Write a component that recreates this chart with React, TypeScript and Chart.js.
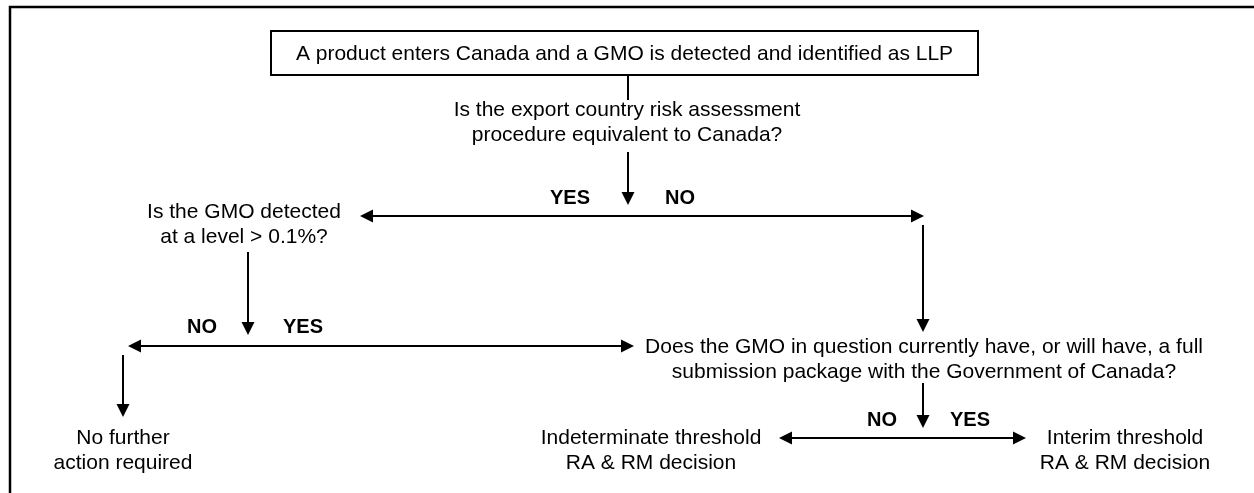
import React, { useEffect, useRef } from "react";
import { Chart, registerables } from "chart.js";

Chart.register(...registerables);

// Diagram coordinate space (x: 0..1254, y: 0..493 top-down)
const X_RANGE = [0, 1254];
const Y_RANGE = [0, 493];

// Outer frame (top-left corner; it runs off the right/bottom of the picture)
const frameCorner = [10, 7];

// Start box
const startBoxText = "A product enters Canada and a GMO is detected and identified as LLP";
const startBox = [271, 31, 978, 75]; // x1, y1, x2, y2

// Question / outcome text blocks
const textLines: string[][] = [
  ["Is the export country risk assessment", "procedure equivalent to Canada?"],
  ["Is the GMO detected", "at a level > 0.1%?"],
  ["Does the GMO in question currently have, or will have, a full", "submission package with the Government of Canada?"],
  ["No further", "action required"],
  ["Indeterminate threshold", "RA & RM decision"],
  ["Interim threshold", "RA & RM decision"],
];
const textCentersX = [627, 244, 924, 123, 651, 1125];
const textFirstLineY = [110, 212, 347, 438, 438, 438];

// YES / NO branch labels
const branchLabels = ["YES", "NO", "NO", "YES", "NO", "YES"];
const branchX = [570, 680, 202, 303, 882, 970];
const branchY = [198, 198, 327, 327, 420, 420];

// Connectors: start point, end point, arrowheads ("none" | "end" | "both")
const connStartX = [628, 628, 360, 923, 248, 128, 123, 923, 779];
const connStartY = [75, 152, 216, 225, 252, 346, 355, 383, 438];
const connEndX = [628, 628, 924, 923, 248, 634, 123, 923, 1026];
const connEndY = [100, 205, 216, 332, 335, 346, 417, 428, 438];
const connHeads = ["none", "end", "both", "end", "end", "both", "end", "end", "both"];

const HEAD_LEN = 13;
const HEAD_HALF = 6.5;
const FONT = '"Liberation Sans", Arial, Helvetica, sans-serif';

function shorten(x1: number, y1: number, x2: number, y2: number, d: number) {
  const len = Math.hypot(x2 - x1, y2 - y1) || 1;
  return [x2 - ((x2 - x1) / len) * d, y2 - ((y2 - y1) / len) * d];
}

const flowPlugin = {
  id: "flowDecor",
  afterDraw(chart: any) {
    const { ctx, scales } = chart;
    const sx = (v: number) => scales.x.getPixelForValue(v);
    const sy = (v: number) => scales.y.getPixelForValue(v);
    ctx.save();
    ctx.strokeStyle = "#000";
    ctx.fillStyle = "#000";

    // outer frame
    ctx.lineWidth = 2.5;
    ctx.beginPath();
    ctx.moveTo(sx(frameCorner[0]), sy(Y_RANGE[1]) + 10);
    ctx.lineTo(sx(frameCorner[0]), sy(frameCorner[1]));
    ctx.lineTo(sx(X_RANGE[1]) + 10, sy(frameCorner[1]));
    ctx.stroke();

    // start box
    ctx.lineWidth = 2;
    const bx1 = sx(startBox[0]), by1 = sy(startBox[1]);
    const bx2 = sx(startBox[2]), by2 = sy(startBox[3]);
    ctx.strokeRect(bx1, by1, bx2 - bx1, by2 - by1);
    ctx.font = `21px ${FONT}`;
    ctx.textAlign = "center";
    ctx.textBaseline = "middle";
    ctx.fillText(startBoxText, (bx1 + bx2) / 2, (by1 + by2) / 2 + 1);

    // arrowheads
    const head = (tx: number, ty: number, fx: number, fy: number) => {
      const len = Math.hypot(tx - fx, ty - fy) || 1;
      const ux = (tx - fx) / len, uy = (ty - fy) / len;
      const bx = tx - ux * HEAD_LEN, by = ty - uy * HEAD_LEN;
      ctx.beginPath();
      ctx.moveTo(tx, ty);
      ctx.lineTo(bx - uy * HEAD_HALF, by + ux * HEAD_HALF);
      ctx.lineTo(bx + uy * HEAD_HALF, by - ux * HEAD_HALF);
      ctx.closePath();
      ctx.fill();
    };
    connHeads.forEach((h, i) => {
      const x1 = sx(connStartX[i]), y1 = sy(connStartY[i]);
      const x2 = sx(connEndX[i]), y2 = sy(connEndY[i]);
      if (h === "end" || h === "both") head(x2, y2, x1, y1);
      if (h === "both") head(x1, y1, x2, y2);
    });

    // text blocks
    ctx.font = `21px ${FONT}`;
    textLines.forEach((lines, i) => {
      lines.forEach((line, j) => {
        ctx.fillText(line, sx(textCentersX[i]), sy(textFirstLineY[i] + j * 25));
      });
    });

    // branch labels
    ctx.font = `bold 20px ${FONT}`;
    branchLabels.forEach((lab, i) => {
      ctx.fillText(lab, sx(branchX[i]), sy(branchY[i]));
    });
    ctx.restore();
  },
};

export default function App() {
  const ref = useRef<HTMLCanvasElement | null>(null);
  useEffect(() => {
    document.body.style.margin = "0";
    const canvas = ref.current;
    if (!canvas) return;
    const datasets = connHeads.map((h, i) => {
      let sxv = connStartX[i], syv = connStartY[i];
      let exv = connEndX[i], eyv = connEndY[i];
      if (h === "end" || h === "both") [exv, eyv] = shorten(sxv, syv, exv, eyv, HEAD_LEN - 2);
      if (h === "both") [sxv, syv] = shorten(connEndX[i], connEndY[i], sxv, syv, HEAD_LEN - 2);
      return {
        label: `c${i}`,
        data: [
          { x: sxv, y: syv },
          { x: exv, y: eyv },
        ],
        showLine: true,
        borderColor: "#000",
        borderWidth: 2,
        pointRadius: 0,
        fill: false,
        tension: 0,
      };
    });
    const chart = new Chart(canvas, {
      type: "scatter",
      data: { datasets },
      options: {
        animation: false,
        responsive: false,
        devicePixelRatio: 1,
        layout: { padding: 0 },
        plugins: { legend: { display: false }, tooltip: { enabled: false } },
        scales: {
          x: { type: "linear", min: X_RANGE[0], max: X_RANGE[1], display: false },
          y: { type: "linear", min: Y_RANGE[0], max: Y_RANGE[1], reverse: true, display: false },
        },
      },
      plugins: [flowPlugin],
    });
    return () => chart.destroy();
  }, []);
  return (
    <div style={{ position: "fixed", left: 0, top: 0, width: 1254, height: 493, background: "#fff" }}>
      <canvas ref={ref} width={1254} height={493} style={{ display: "block" }} />
    </div>
  );
}
